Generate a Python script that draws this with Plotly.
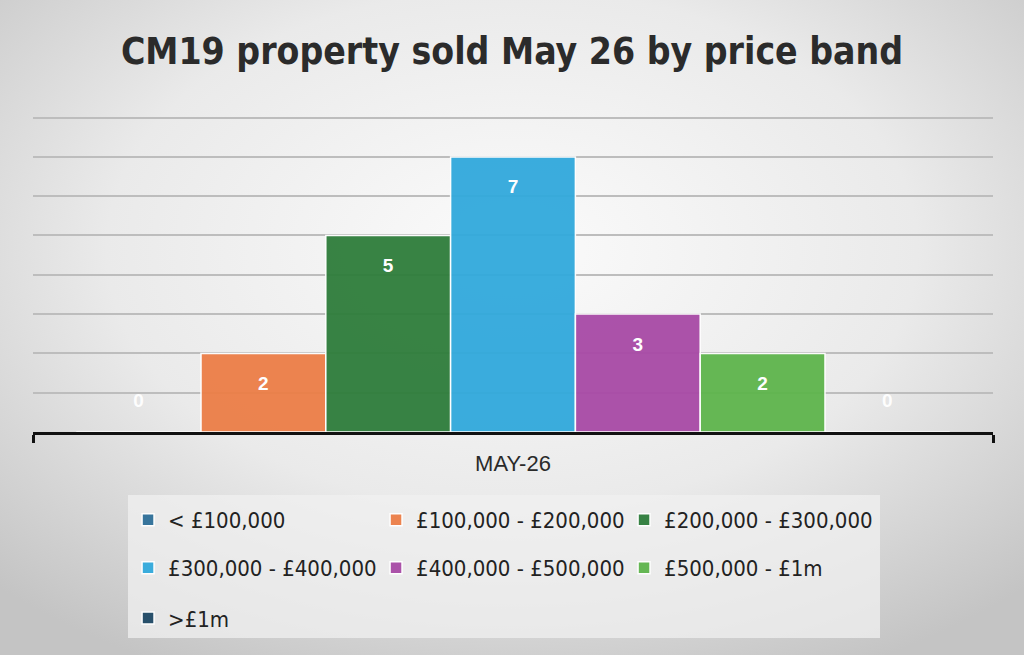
import base64
import plotly.graph_objects as go

# data
month = ["MAY-26"]
bands = ["< £100,000", "£100,000 - £200,000", "£200,000 - £300,000",
         "£300,000 - £400,000", "£400,000 - £500,000", "£500,000 - £1m", ">£1m"]
sold = [0, 2, 5, 7, 3, 2, 0]
colours = ["#2e6f98", "#ec7e47", "#2e7d3b", "#31a9dc", "#a84aa6", "#5eb54c", "#1e4865"]
legend_ids = ["legend", "legend", "legend", "legend2", "legend2", "legend2", "legend3"]

# soft grey radial background
svg = """<svg xmlns='http://www.w3.org/2000/svg' width='1024' height='655'>
<defs><radialGradient id='g' cx='50%' cy='38%' r='72%'>
<stop offset='0%' stop-color='#fbfbfb'/><stop offset='55%' stop-color='#eaeaea'/>
<stop offset='100%' stop-color='#c4c4c4'/></radialGradient></defs>
<rect width='1024' height='655' fill='url(#g)'/></svg>"""
bg_uri = "data:image/svg+xml;base64," + base64.b64encode(svg.encode()).decode()

fig = go.Figure()

val = "<span style='font-size:19px'>%{y}</span>"
for band, n, col, lg in zip(bands, sold, colours, legend_ids):
    # blank line (at the smaller base size) nudges labels away from the bar end
    if n > 0:
        pos, tmpl = "inside", "&nbsp;<br>" + val
    else:
        pos, tmpl = "outside", val + "<br>&nbsp;"
    fig.add_trace(go.Bar(
        x=month, y=[n], name=band, legend=lg,
        marker=dict(color=col, line=dict(color="white", width=1.5)),
        opacity=0.95,
        text=[n], texttemplate=tmpl, textposition=pos,
        insidetextanchor="end", textangle=0, constraintext="none",
        textfont=dict(family="Liberation Sans", size=15, color="white", weight="bold"),
    ))

leg_common = dict(orientation="h", xanchor="left", yanchor="middle", x=0.099,
                  bgcolor="rgba(0,0,0,0)", entrywidth=203, itemwidth=30,
                  font=dict(family="DejaVu Sans Condensed", size=22, color="#222222"))

fig.update_layout(
    width=1024, height=655,
    margin=dict(l=33, r=31, t=116, b=223),
    title=dict(text="<b>CM19 property sold May 26 by price band</b>",
               x=0.5, xanchor="center", y=0.922, yanchor="middle",
               font=dict(family="DejaVu Sans Condensed", size=37, color="#2b2b2b")),
    barmode="group", bargap=0.09, bargroupgap=0.0,
    paper_bgcolor="#e2e2e2", plot_bgcolor="rgba(0,0,0,0)",
    xaxis=dict(showline=True, linecolor="#111111", linewidth=3,
               ticks="outside", tickson="boundaries", ticklen=8, tickwidth=3,
               tickcolor="#111111", ticklabelstandoff=10,
               tickfont=dict(family="Liberation Sans", size=22, color="#2a2a2a")),
    yaxis=dict(range=[0, 8.04], dtick=1, showticklabels=False, showgrid=True,
               gridcolor="#bdbdbd", gridwidth=1.5, zeroline=False, showline=False),
    legend=dict(leg_common, y=-0.278),
    legend2=dict(leg_common, y=-0.430),
    legend3=dict(leg_common, y=-0.589),
    images=[dict(source=bg_uri, xref="paper", yref="paper",
                 x=-33 / 960, y=1 + 116 / 316, sizex=1024 / 960, sizey=655 / 316,
                 xanchor="left", yanchor="top", sizing="stretch", layer="below")],
    shapes=[dict(type="rect", xref="paper", yref="paper", layer="below",
                 x0=(128 - 33) / 960, x1=(880 - 33) / 960,
                 y0=(432 - 638) / 316, y1=(432 - 495) / 316,
                 fillcolor="rgba(240,240,240,0.75)", line=dict(width=0))],
    showlegend=True,
)

fig.write_html("out.html", config={"displayModeBar": False},
               post_script="document.body.style.margin='0';")
